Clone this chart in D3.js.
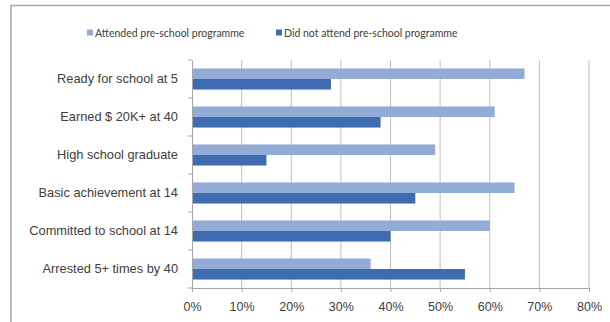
<!DOCTYPE html>
<html>
<head>
<meta charset="utf-8">
<script src="https://cdn.jsdelivr.net/npm/d3@7"></script>
<style>
  html, body { margin: 0; padding: 0; background: #fff; }
  svg { display: block; font-family: Lato, "Open Sans", sans-serif; }
</style>
</head>
<body>
<script>
// Outcomes compared between children who did and did not attend pre-school
const categories = [
  "Ready for school at 5",
  "Earned $ 20K+ at 40",
  "High school graduate",
  "Basic achievement at 14",
  "Committed to school at 14",
  "Arrested 5+ times by 40"
];
const seriesNames = ["Attended pre-school programme", "Did not attend pre-school programme"];
const attended    = [67, 61, 49, 65, 60, 36];
const notAttended = [28, 38, 15, 45, 40, 55];
const xTicks = [0, 10, 20, 30, 40, 50, 60, 70, 80];
const colors = ["#93abd7", "#3f6cb0"];

const W = 610, H = 322;
const margin = { top: 60, right: 21, bottom: 34, left: 192 };

const svg = d3.select("body").append("svg")
  .attr("width", W).attr("height", H);

// chart frame (top and left edges visible)
svg.append("path")
  .attr("d", `M11,${H} L11,5.5 L${W},5.5`)
  .attr("fill", "none").attr("stroke", "#a6a6a6").attr("stroke-width", 1.5);

const x = d3.scaleLinear().domain([0, 80]).range([margin.left, W - margin.right]);
const y = d3.scaleBand().domain(categories).range([margin.top, H - margin.bottom]);
const inner = d3.scaleBand().domain([0, 1]).range([0, y.bandwidth()]).paddingInner(0).paddingOuter(0.8);

// vertical gridlines
svg.append("g").selectAll("line")
  .data(xTicks.filter(d => d > 0))
  .join("line")
  .attr("x1", d => x(d)).attr("x2", d => x(d))
  .attr("y1", margin.top).attr("y2", H - margin.bottom)
  .attr("stroke", "#bfbfbf").attr("stroke-width", 1);

// bars
const data = categories.map((c, i) => ({ c, vals: [attended[i], notAttended[i]] }));
const groups = svg.append("g").selectAll("g")
  .data(data).join("g")
  .attr("transform", d => `translate(0,${y(d.c)})`);
groups.selectAll("rect")
  .data(d => d.vals.map((v, k) => ({ v, k })))
  .join("rect")
  .attr("x", x(0))
  .attr("y", d => inner(d.k))
  .attr("width", d => x(d.v) - x(0))
  .attr("height", inner.bandwidth())
  .attr("fill", d => colors[d.k]);

// x axis
const xAxis = svg.append("g")
  .attr("transform", `translate(0,${H - margin.bottom})`)
  .call(d3.axisBottom(x).tickValues(xTicks).tickFormat(d => d + "%").tickSize(4).tickPadding(10));
xAxis.select(".domain").attr("stroke", "#a6a6a6");
xAxis.selectAll(".tick line").attr("stroke", "#a6a6a6");
xAxis.selectAll("text").attr("fill", "#404040").style("font-size", "12.5px");

// y axis
const yAxis = svg.append("g")
  .attr("transform", `translate(${margin.left},0)`)
  .call(d3.axisLeft(y).tickSize(0).tickPadding(14));
yAxis.select(".domain").attr("stroke", "#a6a6a6");
yAxis.selectAll("text").attr("fill", "#404040").style("font-size", "12.8px");
// category separators
svg.append("g").selectAll("line")
  .data(d3.range(categories.length + 1))
  .join("line")
  .attr("x1", margin.left - 4).attr("x2", margin.left)
  .attr("y1", i => margin.top + i * y.step()).attr("y2", i => margin.top + i * y.step())
  .attr("stroke", "#a6a6a6");

// legend
const legendX = [87, 276];
const legend = svg.append("g").selectAll("g")
  .data(seriesNames).join("g")
  .attr("transform", (d, i) => `translate(${legendX[i]},33)`);
legend.append("rect")
  .attr("x", 0).attr("y", -3.5).attr("width", 6).attr("height", 6)
  .attr("fill", (d, i) => colors[i]);
legend.append("text")
  .attr("x", 8).attr("y", 0).attr("dy", "0.35em")
  .attr("fill", "#404040").style("font-size", "10.5px")
  .text(d => d);
</script>
</body>
</html>
